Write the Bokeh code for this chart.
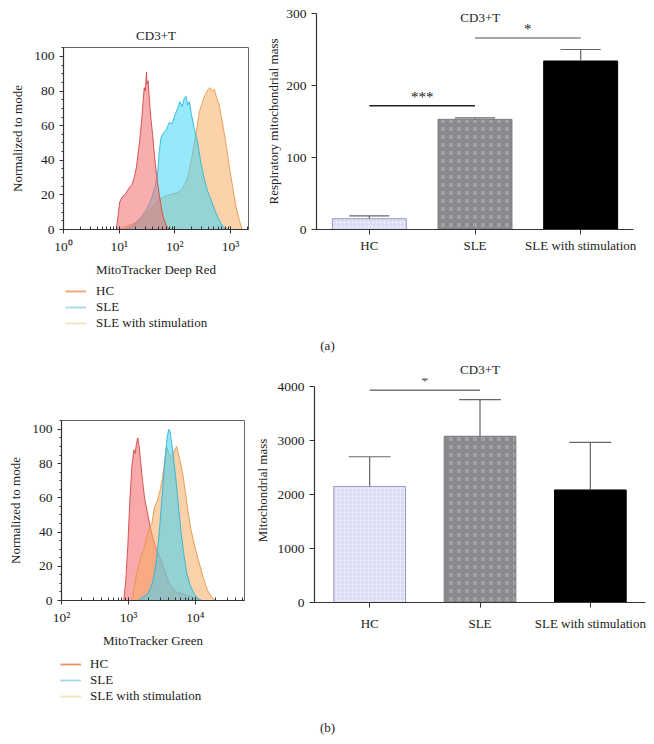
from bokeh.plotting import figure
from bokeh.layouts import column, row
from bokeh.models import (ColumnDataSource, Legend, LegendItem, FactorRange, Range1d,
                          CustomJSTickFormatter, SingleIntervalTicker, LogTicker, Label)
from bokeh.transform import dodge
from bokeh.embed import file_html
from bokeh.resources import INLINE

FONT = "Liberation Serif"
NAN = float("nan")

# ---------------- data ----------------
legend_labels = ["HC", "SLE", "SLE with stimulation"]
cats = ["HC", "SLE", "SLE with stimulation"]

# (a) MitoTracker Deep Red histograms: log10(intensity), % of mode
a_hc_logx = [0.0, 0.95, 0.98, 1.01, 1.06, 1.12, 1.18, 1.23, 1.27, 1.31, 1.34, 1.37, 1.40, 1.43, 1.45,
             1.47, 1.49, 1.50, 1.52, 1.54, 1.57, 1.60, 1.63, 1.66, 1.69, 1.72, 1.76, 1.80, 1.85, 1.90, 3.32]
a_hc_y = [0, 0, 8, 16, 19, 21, 24, 26, 30, 36, 44, 52, 62, 74, 82,
          80, 91, 84, 86, 76, 64, 55, 44, 35, 27, 20, 12, 6, 2, 0, 0]
a_sle_logx = [0.0, 1.10, 1.25, 1.39, 1.50, 1.57, 1.63, 1.69, 1.72, 1.75, 1.80, 1.85, 1.90, 1.95, 2.00,
              2.05, 2.09, 2.13, 2.17, 2.20, 2.23, 2.26, 2.30, 2.35, 2.41, 2.47, 2.53, 2.59, 2.65, 2.72,
              2.80, 2.88, 2.96, 3.32]
a_sle_y = [0, 0, 2, 7, 12, 17, 23, 32, 45, 53, 56, 58, 62, 61, 66,
           70, 74, 71, 76, 77, 72, 74, 66, 58, 50, 38, 29, 22, 17, 11,
           5, 1, 0, 0]
a_stim_logx = [0.0, 0.98, 1.15, 1.30, 1.45, 1.60, 1.70, 1.80, 1.90, 2.00, 2.08, 2.14, 2.20, 2.25, 2.30,
               2.35, 2.40, 2.44, 2.48, 2.52, 2.56, 2.60, 2.63, 2.67, 2.71, 2.75, 2.79, 2.83, 2.88, 2.93,
               2.98, 3.04, 3.10, 3.16, 3.21, 3.32]
a_stim_y = [0, 0, 2, 4, 8, 13, 17, 19, 20, 21, 22, 24, 28, 33, 41,
            50, 60, 68, 72, 76, 79, 81, 82, 80, 81, 76, 73, 66, 57, 47,
            36, 24, 13, 5, 0, 0]

# (b) MitoTracker Green histograms
b_hc_logx = [2.0, 2.93, 2.96, 2.99, 3.02, 3.05, 3.08, 3.10, 3.12, 3.14, 3.16, 3.18, 3.21, 3.24, 3.28,
             3.32, 3.36, 3.40, 3.45, 3.50, 3.55, 3.60, 3.66, 3.72, 3.80, 3.88, 3.96, 4.03, 4.08, 4.74]
b_hc_y = [0, 0, 12, 32, 58, 78, 88, 86, 92, 95, 90, 82, 70, 60, 52,
          44, 37, 32, 27, 22, 16, 11, 7, 5, 4, 3, 2, 1, 0, 0]
b_sle_logx = [2.0, 3.15, 3.22, 3.29, 3.34, 3.38, 3.42, 3.46, 3.49, 3.52, 3.55, 3.58, 3.60, 3.62, 3.645,
              3.67, 3.70, 3.73, 3.76, 3.79, 3.83, 3.87, 3.92, 3.98, 4.04, 4.10, 4.74]
b_sle_y = [0, 0, 2, 4, 8, 14, 24, 40, 55, 70, 85, 96, 100, 99, 92,
           84, 74, 62, 50, 38, 26, 16, 9, 4, 1, 0, 0]
b_stim_logx = [2.0, 3.05, 3.08, 3.11, 3.15, 3.19, 3.23, 3.27, 3.31, 3.35, 3.39, 3.43, 3.47, 3.51, 3.54,
               3.57, 3.60, 3.63, 3.66, 3.69, 3.72, 3.75, 3.78, 3.81, 3.85, 3.89, 3.93, 3.97, 4.02, 4.07,
               4.12, 4.18, 4.24, 4.30, 4.74]
b_stim_y = [0, 0, 6, 13, 20, 26, 30, 36, 42, 45, 55, 58, 64, 72, 80,
            90, 86, 84, 85, 88, 90, 85, 80, 74, 63, 52, 42, 35, 27, 20,
            13, 6, 2, 0, 0]

# bar charts
a_mean = [15, 153, 234]
a_upper = [19, 155, 250]
b_mean = [2150, 3080, 2085]
b_upper = [2700, 3760, 2965]

a_sig_from = ["HC", "SLE"]
a_sig_to = ["SLE", "SLE with stimulation"]
a_sig_y = [172, 266]
a_sig_text = ["***", "*"]
b_sig_from = ["HC"]
b_sig_to = ["SLE"]
b_sig_y = [3930]
b_sig_text = ["*"]

# ---------------- styles ----------------
AX = "#333333"
TXT = "#222222"

SUP = """
const e = Math.round(Math.log10(tick));
const m = {"0":"\u2070","1":"\u00b9","2":"\u00b2","3":"\u00b3","4":"\u2074","5":"\u2075","-":"\u207b"};
return "10" + String(e).split("").map(c => m[c]).join("");
"""


def no_align(p):
    try:
        p.frame_align = False
    except Exception:
        pass


def style_axes(p):
    p.grid.visible = False
    for ax in p.axis:
        ax.axis_line_color = AX
        ax.axis_line_width = 1.2
        ax.major_tick_line_color = AX
        ax.minor_tick_line_color = AX
        ax.major_label_text_font = FONT
        ax.major_label_text_font_size = "13.5px"
        ax.major_label_text_color = TXT
        ax.axis_label_text_font = FONT
        ax.axis_label_text_font_size = "13px"
        ax.axis_label_text_font_style = "normal"
        ax.axis_label_text_color = TXT


def hist_fig(width, height, xr, bl, br, bt, bb, title, xlabel):
    p = figure(width=width, height=height, x_axis_type="log",
               x_range=Range1d(*xr), y_range=Range1d(0, 105.2),
               output_backend="svg", toolbar_location=None,
               min_border_left=bl, min_border_right=br, min_border_top=bt, min_border_bottom=bb)
    no_align(p)
    style_axes(p)
    p.outline_line_color = "#666666"
    p.outline_line_width = 1
    p.xaxis.ticker = LogTicker(num_minor_ticks=10)
    p.xaxis.formatter = CustomJSTickFormatter(code=SUP)
    p.xaxis.major_tick_out = 4
    p.xaxis.major_tick_in = 0
    p.xaxis.minor_tick_out = 0
    p.xaxis.minor_tick_in = 3
    p.yaxis.ticker = SingleIntervalTicker(interval=20, num_minor_ticks=4)
    p.yaxis.major_tick_out = 4
    p.yaxis.major_tick_in = 0
    p.yaxis.minor_tick_out = 2
    p.yaxis.minor_tick_in = 0
    p.yaxis.axis_label = "Normalized to mode"
    p.xaxis.axis_label = xlabel
    p.yaxis.axis_label_standoff = 6
    p.xaxis.axis_label_standoff = 5
    if title:
        p.title.text = title
        p.title.align = "center"
        p.title.text_font = FONT
        p.title.text_font_size = "13px"
        p.title.text_font_style = "normal"
        p.title.text_color = TXT
    return p


def add_curve(p, logx, y, fill, line):
    src = ColumnDataSource(dict(x=[10 ** v for v in logx], y=y))
    p.varea(x="x", y1=0, y2="y", source=src, fill_color=fill, fill_alpha=0.55)
    p.line("x", "y", source=src, line_color=line, line_width=1, line_alpha=0.9)


def legend_fig(width, height, colors, loc, standoff):
    f = figure(width=width, height=height, x_range=Range1d(0, 1), y_range=Range1d(0, 1),
               x_axis_location=None, y_axis_location=None,
               output_backend="svg", toolbar_location=None, min_border=0)
    no_align(f)
    f.grid.visible = False
    f.outline_line_color = None
    items = []
    for lab, col in zip(legend_labels, colors):
        src = ColumnDataSource(dict(x=[NAN], y=[NAN]))
        r = f.line(x="x", y="y", source=src, line_color=col, line_width=1.8)
        items.append(LegendItem(label=lab, renderers=[r]))
    leg = Legend(items=items, location=loc, background_fill_alpha=0, border_line_color=None,
                 padding=0, margin=0, spacing=0, label_height=16, glyph_height=16,
                 glyph_width=21, label_standoff=standoff, label_text_font=FONT,
                 label_text_font_size="13px", label_text_color=TXT)
    f.add_layout(leg, "center")
    return f


BAR_STYLES = [
    dict(fill_color="#dcdcf5", line_color="#9a9ac0", hatch_pattern="dot", hatch_color="white",
         hatch_scale=4, hatch_weight=1, hatch_alpha=0.7),
    dict(fill_color="#a2a2a6", line_color="#7e7e84", hatch_pattern="cross", hatch_color="#88888d",
         hatch_scale=8, hatch_weight=4, hatch_alpha=1.0),
    dict(fill_color="#000000", line_color="#000000"),
]


def bar_fig(width, height, ymax, bounds, interval, bl, br, bt, bb, ylabel, lab_standoff, bw,
            whisk, sig, sig_colors, standoff):
    p = figure(width=width, height=height, x_range=FactorRange(*cats), y_range=Range1d(0, ymax),
               output_backend="svg", toolbar_location=None,
               min_border_left=bl, min_border_right=br, min_border_top=bt, min_border_bottom=bb)
    no_align(p)
    style_axes(p)
    p.outline_line_color = None
    p.x_range.range_padding = 0
    p.yaxis.ticker = SingleIntervalTicker(interval=interval, num_minor_ticks=0)
    p.yaxis.bounds = bounds
    p.yaxis.axis_label = ylabel
    p.yaxis.axis_label_standoff = lab_standoff
    for ax in p.axis:
        ax.major_tick_out = 5
        ax.major_tick_in = 0
        ax.minor_tick_line_color = None
    p.xaxis.major_label_standoff = standoff
    p.xaxis.major_label_text_font_size = "13px"
    means, uppers = whisk
    for i, c in enumerate(cats):
        src = ColumnDataSource(dict(cat=[c], mean=[means[i]], upper=[uppers[i]]))
        p.vbar(x="cat", top="mean", width=bw, source=src, line_width=1, **BAR_STYLES[i])
        p.segment(x0="cat", y0="mean", x1="cat", y1="upper", source=src,
                  line_color="#666666", line_width=1.2)
        p.segment(x0=dodge("cat", -0.19, range=p.x_range), y0="upper",
                  x1=dodge("cat", 0.19, range=p.x_range), y1="upper", source=src,
                  line_color="#666666", line_width=1.2)
    s_from, s_to, s_y, s_txt = sig
    for i in range(len(s_from)):
        ssrc = ColumnDataSource(dict(f=[s_from[i]], t=[s_to[i]], y=[s_y[i]], txt=[s_txt[i]]))
        p.segment(x0="f", y0="y", x1="t", y1="y", source=ssrc, line_color=sig_colors[i], line_width=1.5)
        p.text(x=dodge("t", -0.5, range=p.x_range), y="y", text="txt", source=ssrc,
               text_align="center", text_baseline="bottom", y_offset=-1,
               text_font={"value": FONT}, text_font_size={"value": "15px"}, text_color=TXT)
    return p


def caption(text, y):
    c = figure(width=650, height=20, x_range=Range1d(0, 650), y_range=Range1d(0, 20),
               x_axis_location=None, y_axis_location=None,
               output_backend="svg", toolbar_location=None, min_border=0)
    no_align(c)
    c.grid.visible = False
    c.outline_line_color = None
    c.add_layout(Label(x=327, y=y, x_units="screen", y_units="screen", text=text,
                       text_align="center", text_baseline="middle", text_font=FONT,
                       text_font_size="13px", text_color=TXT))
    return c


# ---------------- panel (a) ----------------
h1 = hist_fig(250, 280, (1, 2100), 63, 2, 47, 51, "CD3+T", "MitoTracker Deep Red")
add_curve(h1, a_stim_logx, a_stim_y, "#f8ad62", "#e59a4c")
add_curve(h1, a_sle_logx, a_sle_y, "#3fd6f7", "#2cb6d8")
add_curve(h1, a_hc_logx, a_hc_y, "#f26b6b", "#d64646")
lg1 = legend_fig(250, 58, ["#f0a070", "#a8d4ec", "#efe4b8"], (65, 7), 10)

b1 = bar_fig(400, 338, 300, (0, 300), 100, 66, 17, 13, 109,
             "Respiratory mitochondrial mass", 2, 0.7, (a_mean, a_upper),
             (a_sig_from, a_sig_to, a_sig_y, a_sig_text), ["#222222", "#888888"], 3)
b1.add_layout(Label(x=1.55, y=294, text="CD3+T", text_align="center", text_baseline="middle",
                    text_font=FONT, text_font_size="13px", text_color=TXT))

# ---------------- panel (b) ----------------
h2 = hist_fig(250, 292, (100, 54000), 61, 6, 62, 48, None, "MitoTracker Green")
add_curve(h2, b_hc_logx, b_hc_y, "#f46262", "#d04848")
add_curve(h2, b_stim_logx, b_stim_y, "#f8ab62", "#e0974e")
add_curve(h2, b_sle_logx, b_sle_y, "#3fd2f4", "#2cb2d4")
lg2 = legend_fig(250, 66, ["#e8905e", "#a8d4ec", "#efe4b8"], (60, 12), 9)

b2 = bar_fig(400, 358, 4150, (0, 4000), 1000, 64, 5, 19, 114,
             "Mitochondrial mass", 5, 0.65, (b_mean, b_upper),
             (b_sig_from, b_sig_to, b_sig_y, b_sig_text), ["#777777"], 8)
b2.title.text = "CD3+T"
b2.title.align = "center"
b2.title.text_font = FONT
b2.title.text_font_size = "13px"
b2.title.text_font_style = "normal"
b2.title.text_color = TXT
try:
    b2.title.standoff = 3
except Exception:
    pass

layout = column(row(column(h1, lg1), b1), caption("(a)", 13),
                row(column(h2, lg2), b2), caption("(b)", 9))

open("out.html", "w").write(file_html(layout, INLINE))
